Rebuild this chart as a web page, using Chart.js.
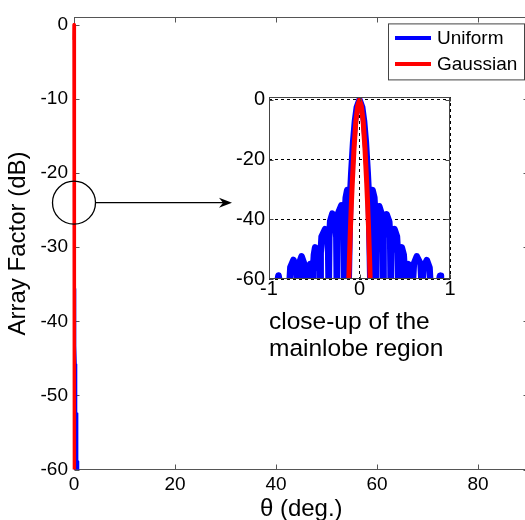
<!DOCTYPE html>
<html>
<head>
<meta charset="utf-8">
<script src="https://cdn.jsdelivr.net/npm/chart.js@4.4.1/dist/chart.umd.min.js"></script>
<style>
  html, body { margin: 0; padding: 0; background: #fff; overflow: hidden; }
  #wrap { position: relative; width: 535px; height: 520px; }
  #mainChart { position: absolute; left: 0; top: 0; }
  #insetChart { position: absolute; left: 200px; top: 80px; }
</style>
</head>
<body>
<div id="wrap">
  <canvas id="mainChart" width="535" height="520"></canvas>
  <canvas id="insetChart" width="260" height="300"></canvas>
</div>
<script>
// angle in degrees, array factor in dB (one row per lobe)
const uniformAngle = [
  -1.00, -0.91, -0.905, -0.895, -0.885, -0.88, -0.78,
  -0.774, -0.764, -0.73, -0.701, -0.691, -0.685,
  -0.679, -0.669, -0.64, -0.611, -0.601, -0.595,
  -0.589, -0.579, -0.545, -0.536, -0.526, -0.52,
  -0.514, -0.504, -0.49, -0.451, -0.441, -0.435,
  -0.429, -0.419, -0.38, -0.356, -0.346, -0.34,
  -0.334, -0.324, -0.30, -0.266, -0.256, -0.25,
  -0.244, -0.234, -0.20, -0.184, -0.174, -0.168,
  -0.162, -0.152, -0.136, -0.128, -0.12,
  -0.11, -0.10, -0.09, -0.07, -0.05, -0.03, 0, 0.03, 0.05, 0.07, 0.09, 0.10, 0.11, 0.12,
  0.128, 0.136, 0.144, 0.164, 0.174, 0.18,
  0.186, 0.196, 0.218, 0.244, 0.254, 0.26,
  0.266, 0.276, 0.30, 0.329, 0.339, 0.345,
  0.351, 0.361, 0.387, 0.414, 0.424, 0.43,
  0.436, 0.446, 0.467, 0.489, 0.499, 0.505,
  0.511, 0.521, 0.54, 0.569, 0.579, 0.585,
  0.591, 0.601, 0.633, 0.674, 0.684, 0.69,
  0.696, 0.706, 0.744, 0.774, 0.784, 0.79,
  0.875, 0.88, 0.89, 0.90, 0.905, 1.00];
const uniformAF = [
  -70, -65, -60.5, -58.8, -60.5, -65, -65,
  -61.6, -56.1, -53.6, -56.1, -61.6, -65,
  -60.4, -54.9, -52.4, -54.9, -60.4, -65,
  -63, -57.5, -55.0, -57.5, -63, -65,
  -57.4, -51.9, -49.4, -51.9, -57.4, -65,
  -51.3, -45.8, -43.3, -45.8, -51.3, -65,
  -46.1, -40.6, -38.1, -40.6, -46.1, -65,
  -43.3, -37.8, -35.3, -37.8, -43.3, -65,
  -38.2, -32.7, -30.2, -33, -62,
  -45, -30, -24, -14, -7, -2.5, 0, -2.5, -7, -14, -24, -30, -45, -62,
  -33, -31, -30.2, -32.7, -38.2, -65,
  -43.6, -38.1, -35.6, -38.1, -43.6, -65,
  -46.3, -40.8, -38.3, -40.8, -46.3, -65,
  -51.3, -45.8, -43.3, -45.8, -51.3, -65,
  -57.4, -51.9, -49.4, -51.9, -57.4, -65,
  -63, -57.5, -55.0, -57.5, -63, -65,
  -60.4, -54.9, -52.4, -54.9, -60.4, -65,
  -61.7, -56.2, -53.7, -56.2, -61.7, -65,
  -65, -60.5, -58.9, -60.5, -65, -70];

const gaussAngle = [-0.12, -0.11, -0.10, -0.09, -0.08, -0.07, -0.06, -0.04, -0.02, 0,
  0.02, 0.04, 0.06, 0.07, 0.08, 0.09, 0.10, 0.11, 0.12];
const gaussAF = [-62, -52, -43, -35, -28, -22, -16, -7, -2, 0,
  -2, -7, -16, -22, -28, -35, -43, -52, -62];

const seriesNames = ['Uniform', 'Gaussian'];
const seriesColors = ['#0000ff', '#ff0000'];

const mainXTicks = [0, 20, 40, 60, 80];
const mainYTicks = [0, -10, -20, -30, -40, -50, -60];
const insetXTicks = [-1, 0, 1];
const insetYTicks = [0, -20, -40, -60];
const insetCaption = ['close-up of the', 'mainlobe region'];

Chart.defaults.font.family = "'Liberation Sans', Arial, sans-serif";
Chart.defaults.color = '#000';

function points(xs, ys) {
  return xs.map((x, i) => ({ x: x, y: ys[i] }));
}

function setTicks(values) {
  return function(scale) { scale.ticks = values.map(v => ({ value: v })); };
}

// box round the axes with ticks pointing inwards, like the original
function drawBox(chart, opts) {
  const { ctx, chartArea: a, scales } = chart;
  const l = Math.round(a.left) + 0.5, r = Math.round(a.right) - 0.5;
  const t = Math.round(a.top) + 0.5, b = Math.round(a.bottom) - 0.5;
  const len = opts.tickLen;
  ctx.save();
  ctx.strokeStyle = opts.color;
  ctx.lineWidth = 1;
  ctx.beginPath();
  scales.x.ticks.forEach(tk => {
    const px = Math.round(scales.x.getPixelForValue(tk.value)) + 0.5;
    ctx.moveTo(px, b); ctx.lineTo(px, b - len);
    ctx.moveTo(px, t); ctx.lineTo(px, t + len);
  });
  scales.y.ticks.forEach(tk => {
    const py = Math.round(scales.y.getPixelForValue(tk.value)) + 0.5;
    ctx.moveTo(l, py); ctx.lineTo(l + len, py);
    ctx.moveTo(r, py); ctx.lineTo(r - len, py);
  });
  ctx.stroke();
  ctx.strokeRect(l, t, r - l, b - t);
  ctx.restore();
}

const matlabBox = {
  id: 'matlabBox',
  beforeDatasetsDraw(chart, args, opts) { if (opts.below) drawBox(chart, opts); },
  afterDatasetsDraw(chart, args, opts) { if (!opts.below) drawBox(chart, opts); }
};

const boxLegend = {
  id: 'boxLegend',
  afterDraw(chart) {
    const { ctx, chartArea: a } = chart;
    const w = 136, h = 56;
    const x0 = a.right - 4.5 - w, y0 = a.top + 6;
    ctx.save();
    ctx.fillStyle = '#fff';
    ctx.fillRect(x0, y0, w, h);
    ctx.strokeStyle = '#444';
    ctx.lineWidth = 1;
    ctx.strokeRect(x0 + 0.5, y0 + 0.5, w, h);
    ctx.font = "19px 'Liberation Sans', Arial, sans-serif";
    ctx.textBaseline = 'middle';
    ctx.fillStyle = '#000';
    seriesNames.forEach((name, i) => {
      const y = y0 + 14.5 + i * 26;
      ctx.strokeStyle = seriesColors[i];
      ctx.lineWidth = 4;
      ctx.beginPath();
      ctx.moveTo(x0 + 7, y); ctx.lineTo(x0 + 43, y);
      ctx.stroke();
      ctx.fillText(name, x0 + 49, y + 1);
    });
    ctx.restore();
  }
};

// circle on the main plot and arrow toward the close-up
const zoomMarker = {
  id: 'zoomMarker',
  afterDraw(chart, args, opts) {
    const { ctx, scales } = chart;
    const cx = scales.x.getPixelForValue(opts.x);
    const cy = scales.y.getPixelForValue(opts.y);
    ctx.save();
    ctx.strokeStyle = '#000';
    ctx.fillStyle = '#000';
    ctx.lineWidth = 1.3;
    ctx.beginPath();
    ctx.arc(cx, cy, opts.r, 0, Math.PI * 2);
    ctx.stroke();
    ctx.beginPath();
    ctx.moveTo(cx + opts.r, cy);
    ctx.lineTo(opts.toX - 6, cy);
    ctx.stroke();
    ctx.beginPath();
    ctx.moveTo(opts.toX, cy);
    ctx.lineTo(opts.toX - 13, cy - 5);
    ctx.lineTo(opts.toX - 9, cy);
    ctx.lineTo(opts.toX - 13, cy + 5);
    ctx.closePath();
    ctx.fill();
    ctx.restore();
  }
};

new Chart(document.getElementById('mainChart'), {
  type: 'line',
  data: {
    datasets: [
      { label: seriesNames[0], data: points(uniformAngle, uniformAF), borderColor: seriesColors[0], borderWidth: 1.5, order: 1 },
      { label: seriesNames[1], data: points(gaussAngle, gaussAF), borderColor: seriesColors[1], borderWidth: 3.4, order: 0 }
    ]
  },
  options: {
    responsive: false,
    animation: false,
    devicePixelRatio: 1,
    layout: { padding: { top: 13, right: 6.5, left: 0, bottom: 0 } },
    elements: {
      point: { radius: 0 },
      line: { tension: 0, borderJoinStyle: 'round', borderCapStyle: 'round' }
    },
    datasets: { line: { clip: { left: 5, top: 5, right: 0, bottom: 0 } } },
    plugins: {
      legend: { display: false },
      tooltip: { enabled: false },
      matlabBox: { color: '#555', tickLen: 5, below: true },
      zoomMarker: { x: 0, y: -24, r: 21.5, toX: 232 }
    },
    scales: {
      x: {
        type: 'linear', min: 0, max: 90,
        afterBuildTicks: setTicks(mainXTicks),
        afterFit: s => { s.height = 50.5; },
        grid: { display: false, drawTicks: false },
        border: { display: false },
        ticks: { font: { size: 19, lineHeight: 1.2 }, padding: 4, maxRotation: 0, autoSkip: false, callback: v => String(v) },
        title: { display: true, text: 'θ (deg.)', font: { size: 24, lineHeight: 0.92 }, padding: 0 }
      },
      y: {
        type: 'linear', min: -60, max: 1,
        afterBuildTicks: setTicks(mainYTicks),
        afterFit: s => { s.width = 74; },
        grid: { display: false, drawTicks: false },
        border: { display: false },
        ticks: { font: { size: 19 }, padding: 6, autoSkip: false, callback: v => String(v) },
        title: { display: true, text: 'Array Factor (dB)', font: { size: 24, lineHeight: 1.2 }, padding: { top: 4, bottom: 0 } }
      }
    }
  },
  plugins: [matlabBox, boxLegend, zoomMarker]
});

new Chart(document.getElementById('insetChart'), {
  type: 'line',
  data: {
    datasets: [
      { label: seriesNames[0], data: points(uniformAngle, uniformAF), borderColor: seriesColors[0], borderWidth: 6.5, order: 1 },
      { label: seriesNames[1], data: points(gaussAngle, gaussAF), borderColor: seriesColors[1], borderWidth: 5, order: 0 }
    ]
  },
  options: {
    responsive: false,
    animation: false,
    devicePixelRatio: 1,
    layout: { padding: { top: 17, right: 10, left: 0, bottom: 0 } },
    elements: {
      point: { radius: 0 },
      line: { tension: 0, borderJoinStyle: 'round', borderCapStyle: 'round' }
    },
    datasets: { line: { clip: 0 } },
    plugins: {
      legend: { display: false },
      tooltip: { enabled: false },
      matlabBox: { color: '#444', tickLen: 4, below: false }
    },
    scales: {
      x: {
        type: 'linear', min: -1, max: 1,
        afterBuildTicks: setTicks(insetXTicks),
        afterFit: s => { s.height = 101; },
        grid: { color: '#000', lineWidth: 1, drawTicks: false },
        border: { display: false, dash: [3, 3] },
        ticks: { font: { size: 20, lineHeight: 1 }, padding: 0, maxRotation: 0, autoSkip: false, callback: v => String(v) },
        title: { display: true, text: insetCaption, align: 'start', font: { size: 24.5, lineHeight: 1.1 }, padding: { top: 0, bottom: 17 } }
      },
      y: {
        type: 'linear', min: -60, max: 1,
        afterBuildTicks: setTicks(insetYTicks),
        afterFit: s => { s.width = 69; },
        grid: { color: '#000', lineWidth: 1, drawTicks: false },
        border: { display: false, dash: [3, 3] },
        ticks: { font: { size: 20 }, padding: 4, autoSkip: false, callback: v => String(v) }
      }
    }
  },
  plugins: [matlabBox]
});
</script>
</body>
</html>
